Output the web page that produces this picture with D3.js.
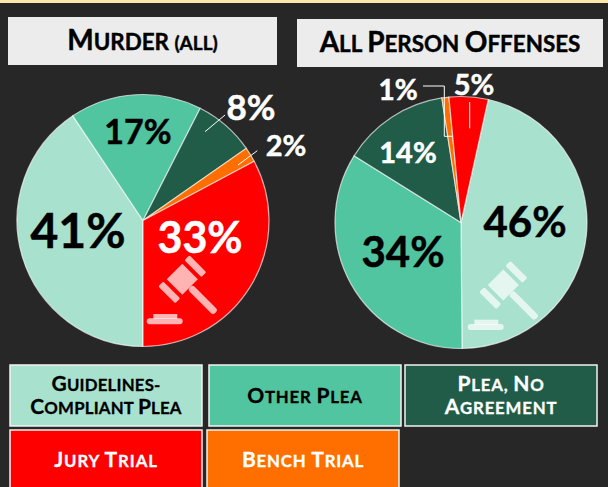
<!DOCTYPE html>
<html>
<head>
<meta charset="utf-8">
<script src="https://cdn.jsdelivr.net/npm/d3@7"></script>
<style>
html, body { margin: 0; padding: 0; background: #272727; overflow: hidden; }
text { font-family: Lato, "Open Sans", sans-serif; font-weight: 700; }
</style>
</head>
<body>
<div id="chart-area"></div>
<script>
var width = 608;
var height = 487;

// categories, same clockwise order in both pies
var categories = ["Guidelines-Compliant Plea", "Other Plea", "Plea, No Agreement", "Bench Trial", "Jury Trial"];
var colors = ["#a8e2cf", "#50c5a0", "#215c49", "#ff6f00", "#ff0000"];

var murderValues = [40.6, 16.9, 7.8, 1.9, 32.8];
var personValues = [46.4, 34.0, 13.7, 0.9, 5.0];
var murderLabels = ["41%", "17%", "8%", "2%", "33%"];
var personLabels = ["46%", "34%", "14%", "1%", "5%"];

// label layout per slice: x, y, font size, fill
var murderLabelPos = [[78, 231, 48, "#000"], [138, 132, 34, "#000"], [251, 108, 35, "#fff"], [286, 146, 29, "#fff"], [200, 238, 43, "#fff"]];
var personLabelPos = [[525, 222, 42, "#000"], [403, 252, 42, "#000"], [408, 153, 29, "#fff"], [398, 90, 28, "#fff"], [474, 85, 29, "#fff"]];

var svg = d3.select("#chart-area").append("svg")
    .attr("width", width)
    .attr("height", height)
    .style("display", "block")

svg.append("rect").attr("width", width).attr("height", height).attr("fill", "#272727")

// thin cream strip on the top edge
svg.append("rect").attr("width", width).attr("height", 3).attr("fill", "#fde9a8")

// small caps by hand, the synthesized ones come out too small
function smallCaps(t, line, size) {
    line.split(/(?<=[ ])/).forEach(word => {
        if (word[0] == "(") {
            t.append("tspan").attr("font-size", (size * 0.68) + "px").text(word.toUpperCase())
            return
        }
        var m = word.match(/^([^a-z]*)(.*)$/)
        t.append("tspan").attr("font-size", size + "px").text(m[1])
        if (m[2]) t.append("tspan").attr("font-size", (size * 0.8) + "px").text(m[2].toUpperCase())
    })
}

function titleBox(x, y, w, h, label, size) {
    svg.append("rect").attr("x", x).attr("y", y).attr("width", w).attr("height", h).attr("fill", "#ececec")
    var t = svg.append("text")
        .attr("x", x + w / 2)
        .attr("y", y + h / 2 + 9)
        .attr("text-anchor", "middle")
        .attr("fill", "#000")
        .attr("stroke", "#000")
        .attr("stroke-width", 0.4)
    smallCaps(t, label, size)
}
titleBox(8, 17, 269, 48, "Murder (all)", 28)
titleBox(297, 19, 306, 48, "All Person Offenses", 28)

var radius = 126;
var arc = d3.arc().innerRadius(0).outerRadius(radius)

function drawPie(cx, cy, startDeg, values, labels, labelPos) {
    var start = startDeg * Math.PI / 180
    var pie = d3.pie().sort(null).startAngle(start).endAngle(start + 2 * Math.PI)
    var g = svg.append("g").attr("transform", "translate(" + cx + "," + cy + ")")

    g.selectAll("path").data(pie(values)).enter().append("path")
        .attr("d", arc)
        .attr("fill", (d, i) => colors[i])
        .attr("stroke", "#fff")
        .attr("stroke-opacity", 0.65)
        .attr("stroke-width", 1.2)

    svg.selectAll(null).data(labels).enter().append("text")
        .attr("x", (d, i) => labelPos[i][0])
        .attr("y", (d, i) => labelPos[i][1] + labelPos[i][2] * 0.35)
        .attr("text-anchor", "middle")
        .attr("font-size", (d, i) => labelPos[i][2] + "px")
        .attr("fill", (d, i) => labelPos[i][3])
        .attr("stroke", (d, i) => labelPos[i][3])
        .attr("stroke-width", 0.5)
        .text(d => d)
}

drawPie(143, 220.5, 180, murderValues, murderLabels, murderLabelPos)
drawPie(461, 222.5, 12.5, personValues, personLabels, personLabelPos)

// leader lines
var leaders = [
    [[205, 131.7], [225, 115]],
    [[238, 165], [257.3, 150.7]],
    [[469.7, 102], [469.7, 128.3]],
    [[423, 86], [444.3, 86], [444.3, 136.3], [453, 136.3]]
]
svg.selectAll(".leader").data(leaders).enter().append("path")
    .attr("class", "leader")
    .attr("d", d3.line())
    .attr("fill", "none")
    .attr("stroke", "#fff")
    .attr("stroke-width", 1)

// gavel icon, head centred on x,y, base below it
function gavel(x, y) {
    var g = svg.append("g").attr("fill", "#fff").attr("fill-opacity", 0.7)
    var head = g.append("g").attr("transform", "translate(" + x + "," + y + ") rotate(45)")
    head.append("rect").attr("x", -11).attr("y", -11).attr("width", 22).attr("height", 22)
    head.append("rect").attr("x", -12).attr("y", -22).attr("width", 24).attr("height", 7).attr("rx", 1.5)
    head.append("rect").attr("x", -12).attr("y", 15).attr("width", 24).attr("height", 7).attr("rx", 1.5)
    head.append("rect").attr("x", 11).attr("y", -3.5).attr("width", 36).attr("height", 7).attr("rx", 3)
    g.append("rect").attr("x", x - 29).attr("y", y + 34.7).attr("width", 24).attr("height", 5)
    g.append("rect").attr("x", x - 35.6).attr("y", y + 39).attr("width", 36).attr("height", 6).attr("rx", 3)
}
gavel(182.3, 279.3)
gavel(503.3, 285)

// legend boxes built from the categories
var legendCells = [
    {i: 0, x: 10, y: 365, w: 192, h: 61, lines: ["Guidelines-", "Compliant Plea"], fill: "#000", spacing: 0.2},
    {i: 1, x: 209, y: 365, w: 192, h: 61, lines: ["Other Plea"], fill: "#000", spacing: 0.8},
    {i: 2, x: 405, y: 365, w: 192, h: 61, lines: ["Plea, No", "Agreement"], fill: "#fff", spacing: 0.8},
    {i: 4, x: 10, y: 430, w: 192, h: 62, lines: ["Jury Trial"], fill: "#fff", spacing: 0.9},
    {i: 3, x: 207, y: 430, w: 192, h: 62, lines: ["Bench Trial"], fill: "#fff", spacing: 0.8}
]
legendCells.forEach(c => {
    svg.append("rect")
        .attr("x", c.x).attr("y", c.y).attr("width", c.w).attr("height", c.h)
        .attr("fill", colors[c.i])
        .attr("stroke", "#f2f2f2")
        .attr("stroke-width", 1.5)
    var midY = c.y > 400 ? 460 : c.y + c.h / 2
    c.lines.forEach((line, k) => {
        var t = svg.append("text")
            .attr("x", c.x + c.w / 2)
            .attr("y", midY + 7 + (k - (c.lines.length - 1) / 2) * 23)
            .attr("text-anchor", "middle")
            .attr("fill", c.fill)
            .attr("stroke", c.fill)
            .attr("stroke-width", 0.3)
            .style("letter-spacing", c.spacing + "px")
        smallCaps(t, line, 21)
    })
})
</script>
</body>
</html>
